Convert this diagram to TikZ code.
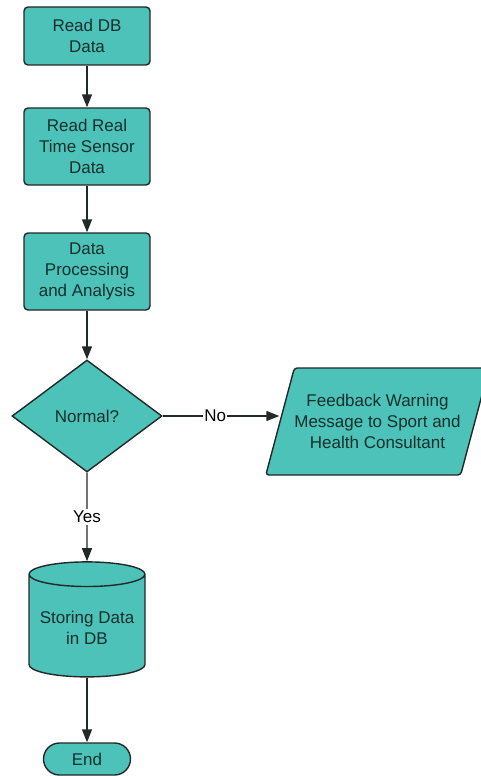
\documentclass[tikz,border=0pt]{standalone}
\usepackage{fontspec}
\setmainfont{Liberation Sans}
\usetikzlibrary{arrows.meta,shapes.geometric,shapes.misc}

\definecolor{tealfill}{RGB}{76,194,184}
\definecolor{edgegray}{RGB}{35,40,40}
\definecolor{tealtext}{RGB}{22,48,46}

\tikzset{
    shapebase/.style={draw=edgegray, fill=tealfill, line width=1.4pt, text=tealtext, align=center, inner sep=2pt},
    stepbox/.style={shapebase, rounded corners=4pt, minimum width=126pt},
    flow/.style={line width=1.4pt, draw=edgegray, -{Triangle[length=13pt,width=10pt]}}
}

\begin{document}
\begin{tikzpicture}[x=1pt, y=-1pt, font=\fontsize{17}{21}\selectfont]
    \useasboundingbox (0,0) rectangle (481,776);

    % process steps
    \node[stepbox, minimum height=58pt] (readdb) at (87,36) {Read DB\\Data};
    \node[stepbox, minimum height=77pt] (sensor) at (87,146.5) {Read Real\\Time Sensor\\Data};
    \node[stepbox, minimum height=77pt] (process) at (87,271.5) {Data\\Processing\\and Analysis};

    % decision and outputs
    \node[shapebase, diamond, inner sep=0pt, minimum width=150pt, minimum height=112pt] (normal) at (87,416) {Normal?};
    \node[shapebase, trapezium, trapezium left angle=64, trapezium right angle=116, trapezium stretches body, inner xsep=0pt,
          minimum width=190pt, minimum height=107pt, rounded corners=3pt] (warning) at (377.5,421.5)
          {Feedback Warning\\Message to Sport and\\Health Consultant};
    \node[shapebase, cylinder, shape border rotate=90, aspect=0.25, minimum width=116pt, minimum height=115pt] (store) at (87,627.5)
          {Storing Data\\in DB};
    \node[shapebase, rounded rectangle, minimum width=91pt, minimum height=32pt] (finish) at (87,759) {End};

    \draw[flow] (readdb) -- (sensor);
    \draw[flow] (sensor) -- (process);
    \draw[flow] (process) -- (normal);
    \draw[flow] (normal.east) -- node[pos=0.45, fill=white, inner sep=1pt] {No} (warning.west |- normal.east);
    \draw[flow] (normal.south) -- node[fill=white, inner sep=2pt] {Yes} (store.north);
    \draw[flow] (store.south) -- (finish.north);
\end{tikzpicture}
\end{document}
